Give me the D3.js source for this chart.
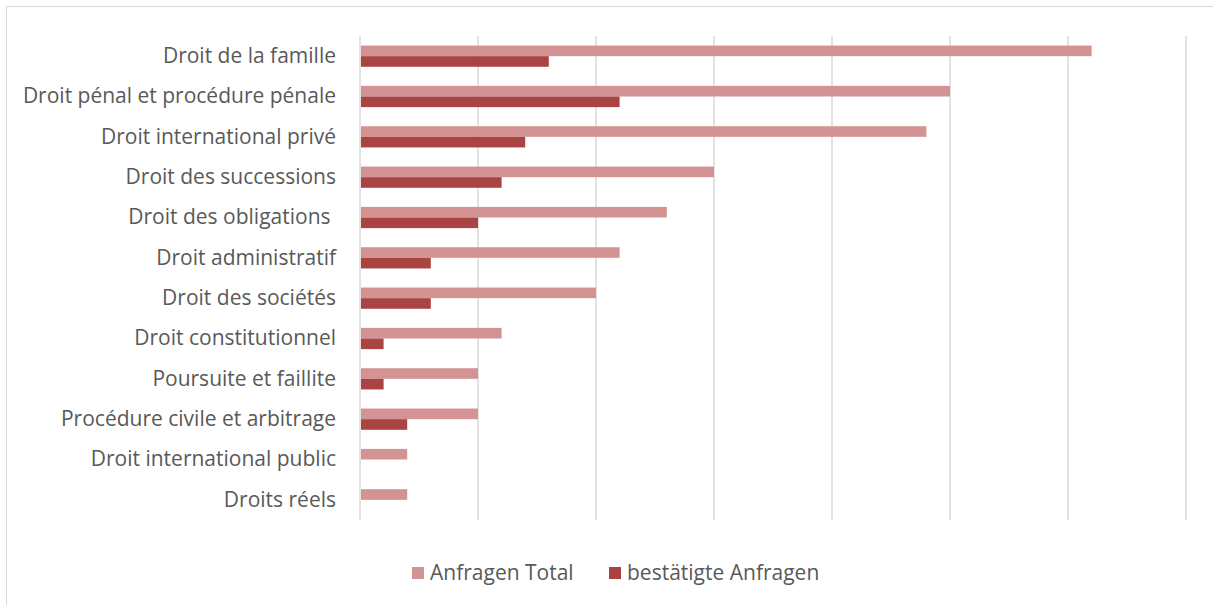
<!DOCTYPE html>
<html>
<head>
<meta charset="utf-8">
<script src="https://cdn.jsdelivr.net/npm/d3@7"></script>
<style>
  body { margin: 0; background: #fff; }
  text { font-family: "Open Sans", sans-serif; fill: #595959; white-space: pre; }
</style>
</head>
<body>
<svg id="chart"></svg>
<script>
const w = 1213, h = 605;

// categories, top to bottom
const categories = [
  "Droit de la famille",
  "Droit pénal et procédure pénale",
  "Droit international privé",
  "Droit des successions",
  "Droit des obligations ",
  "Droit administratif",
  "Droit des sociétés",
  "Droit constitutionnel",
  "Poursuite et faillite",
  "Procédure civile et arbitrage",
  "Droit international public",
  "Droits réels"
];
const totalValues = [31, 25, 24, 15, 13, 11, 10, 6, 5, 5, 2, 2];
const confirmedValues = [8, 11, 7, 6, 5, 3, 3, 1, 1, 2, 0, 0];
const seriesNames = ["Anfragen Total", "bestätigte Anfragen"];
const seriesColors = ["#D39392", "#A94442"];
const gridTicks = [0, 5, 10, 15, 20, 25, 30, 35];

const rows = categories.map(function(c, i) {
  return {name: c, values: [totalValues[i], confirmedValues[i]]};
});

const margin = {top: 36, left: 360, right: 27, bottom: 85};
const fontSize = '21px';

const svg = d3.select('#chart')
  .attr('width', w)
  .attr('height', h);

// chart area border
svg.append('rect')
  .attr('x', 6.5).attr('y', 6.5)
  .attr('width', w + 10).attr('height', h + 10)
  .attr('fill', 'none')
  .attr('stroke', '#D9D9D9')
  .attr('stroke-width', 1);

const x = d3.scaleLinear()
  .domain([0, 35])
  .range([margin.left, w - margin.right]);

const y = d3.scaleBand()
  .domain(categories)
  .range([margin.top, h - margin.bottom]);

const inner = d3.scaleBand()
  .domain([0, 1])
  .range([0, y.bandwidth()])
  .paddingOuter(0.9)
  .paddingInner(0);

// gridlines
svg.selectAll('line.grid')
  .data(gridTicks)
  .enter()
  .append('line')
  .attr('class', 'grid')
  .attr('x1', function(d){ return x(d); })
  .attr('x2', function(d){ return x(d); })
  .attr('y1', margin.top)
  .attr('y2', h - margin.bottom)
  .attr('stroke', '#D9D9D9')
  .attr('stroke-width', 1.5);

// bars
const group = svg.selectAll('g.row')
  .data(rows)
  .enter()
  .append('g')
  .attr('class', 'row')
  .attr('transform', function(d){ return 'translate(0,' + y(d.name) + ')'; });

group.selectAll('rect')
  .data(function(d){ return d.values; })
  .enter()
  .append('rect')
  .attr('x', x(0) + 1)
  .attr('y', function(d, i){ return inner(i); })
  .attr('width', function(d){ return Math.max(0, x(d) - x(0) - 1); })
  .attr('height', inner.bandwidth())
  .attr('fill', function(d, i){ return seriesColors[i]; });

// category labels
const yAxis = d3.axisLeft(y).tickSize(0).tickPadding(24);
svg.append('g')
  .attr('transform', 'translate(' + margin.left + ',0)')
  .call(yAxis)
  .call(function(g){ g.select('.domain').remove(); })
  .selectAll('text')
  .attr('font-size', fontSize)
  .attr('font-family', '"Open Sans", sans-serif')
  .style('fill', '#595959');

// legend
const legendX = [412, 609];
const legend = svg.selectAll('g.legend')
  .data(seriesNames)
  .enter()
  .append('g')
  .attr('class', 'legend')
  .attr('transform', function(d, i){ return 'translate(' + legendX[i] + ',567)'; });

legend.append('rect')
  .attr('width', 12)
  .attr('height', 12)
  .attr('fill', function(d, i){ return seriesColors[i]; });

legend.append('text')
  .attr('x', 18)
  .attr('y', 6)
  .attr('dy', '0.35em')
  .attr('font-size', fontSize)
  .text(function(d){ return d; });
</script>
</body>
</html>
